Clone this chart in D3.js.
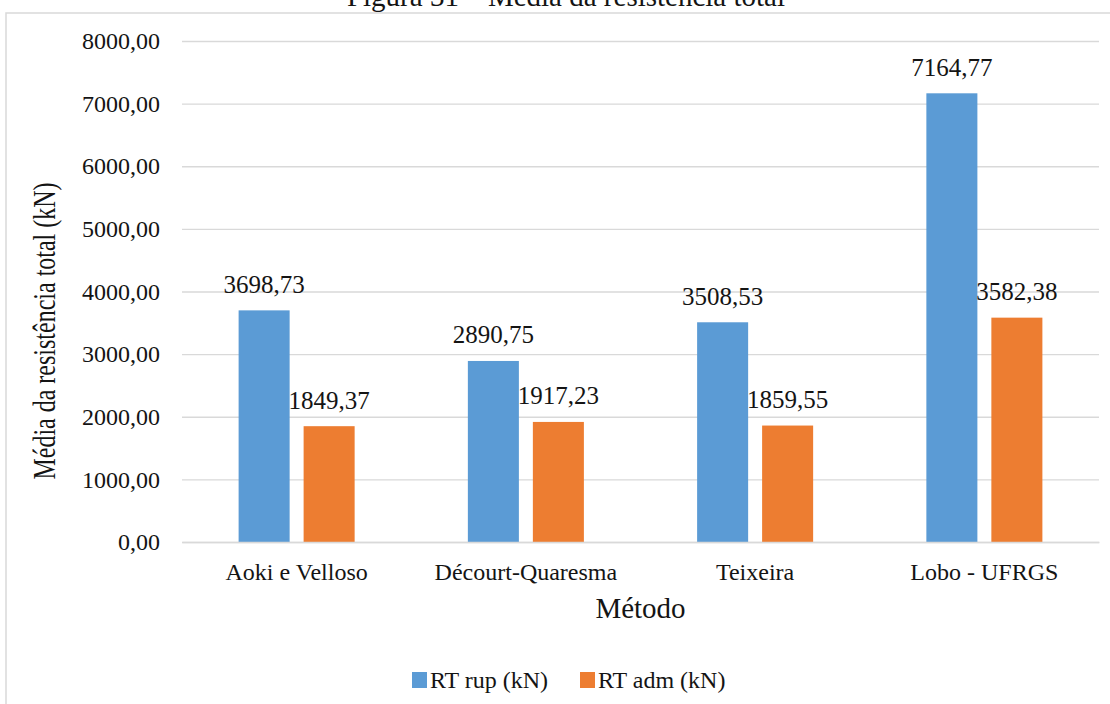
<!DOCTYPE html>
<html>
<head>
<meta charset="utf-8">
<script src="https://cdn.jsdelivr.net/npm/d3@7"></script>
<style>
  html, body { margin: 0; padding: 0; background: #fff; }
  svg { display: block; }
  svg text { font-family: "Liberation Serif", "Times New Roman", serif; }
</style>
</head>
<body>
<svg id="chart" width="1110" height="704"></svg>
<script>
// Mean total resistance per method
const categories = ["Aoki e Velloso", "Décourt-Quaresma", "Teixeira", "Lobo - UFRGS"];
const seriesNames = ["RT rup (kN)", "RT adm (kN)"];
const rtRup = [3698.73, 2890.75, 3508.53, 7164.77];
const rtAdm = [1849.37, 1917.23, 1859.55, 3582.38];
const yTicks = [0, 1000, 2000, 3000, 4000, 5000, 6000, 7000, 8000];
const colors = ["#5B9BD5", "#ED7D31"];

const seriesValues = [rtRup, rtAdm];

const svg = d3.select("#chart");
const textColor = "#141414";
const gridColor = "#d9d9d9";
const serif = '"Liberation Serif", "Times New Roman", serif';

const ptBR = d3.formatLocale({ decimal: ",", thousands: ".", grouping: [3], currency: ["R$", ""] });
const fmt = ptBR.format(".2f");

// Caption above the chart frame
svg.append("text")
  .attr("x", 566).attr("y", 6)
  .attr("text-anchor", "middle")
  .attr("font-size", 29)
  .attr("fill", textColor)
  .text("Figura 31 – Média da resistência total");

// Chart frame
svg.append("rect")
  .attr("x", 6).attr("y", 13)
  .attr("width", 1120).attr("height", 720)
  .attr("fill", "#fff")
  .attr("stroke", gridColor)
  .attr("stroke-width", 1.5);

const plot = { left: 182, right: 1099, top: 41, bottom: 542 };

const y = d3.scaleLinear().domain([0, 8000]).range([plot.bottom, plot.top]);
const x0 = d3.scaleBand().domain(categories).range([plot.left, plot.right]);
const x1 = d3.scaleBand().domain(seriesNames).range([0, x0.bandwidth()])
  .paddingInner(0.215).paddingOuter(0.871);

// Value axis with gridlines
const yAxis = svg.append("g")
  .attr("transform", `translate(${plot.left},0)`)
  .call(d3.axisLeft(y).tickValues(yTicks).tickFormat(fmt)
    .tickSizeInner(-(plot.right - plot.left)).tickSizeOuter(0).tickPadding(22));
yAxis.select(".domain").remove();
yAxis.selectAll(".tick line").attr("stroke", gridColor).attr("stroke-width", 1.4);
yAxis.selectAll(".tick text")
  .attr("font-size", 24).attr("fill", textColor);

// Bars
const groups = svg.append("g").selectAll("g")
  .data(categories)
  .join("g")
  .attr("transform", d => `translate(${x0(d)},0)`);

groups.selectAll("rect")
  .data((c, i) => seriesNames.map((s, k) => ({ s, k, v: seriesValues[k][i] })))
  .join("rect")
  .attr("x", d => x1(d.s))
  .attr("y", d => y(d.v))
  .attr("width", x1.bandwidth())
  .attr("height", d => y(0) - y(d.v))
  .attr("fill", d => colors[d.k]);

// Data labels
groups.selectAll("text.val")
  .data((c, i) => seriesNames.map((s, k) => ({ s, k, v: seriesValues[k][i] })))
  .join("text")
  .attr("class", "val")
  .attr("x", d => x1(d.s) + x1.bandwidth() / 2)
  .attr("y", d => y(d.v) - 17.5)
  .attr("text-anchor", "middle")
  .attr("font-size", 25)
  .attr("fill", textColor)
  .text(d => fmt(d.v));

// Category axis
const xAxis = svg.append("g")
  .attr("transform", `translate(0,${plot.bottom})`)
  .call(d3.axisBottom(x0).tickSize(0));
xAxis.select(".domain").attr("stroke", gridColor).attr("stroke-width", 1.4);
xAxis.selectAll(".tick text")
  .attr("y", 38).attr("dy", 0)
  .attr("font-size", 24).attr("fill", textColor);

// Axis titles
svg.append("text")
  .attr("x", (plot.left + plot.right) / 2).attr("y", 618)
  .attr("text-anchor", "middle")
  .attr("font-size", 29)
  .attr("fill", textColor)
  .text("Método");

svg.append("text")
  .attr("transform", "translate(55,331) scale(1.3,1) rotate(-90)")
  .attr("text-anchor", "middle")
  .attr("font-size", 24)
  .attr("fill", textColor)
  .text("Média da resistência total (kN)");

// Legend
const legend = svg.append("g");
const legendItems = [
  { name: seriesNames[0], color: colors[0], x: 412 },
  { name: seriesNames[1], color: colors[1], x: 580 }
];
legendItems.forEach(it => {
  legend.append("rect")
    .attr("x", it.x).attr("y", 672)
    .attr("width", 15).attr("height", 16)
    .attr("fill", it.color);
  legend.append("text")
    .attr("x", it.x + 18).attr("y", 688)
    .attr("font-size", 24)
    .attr("fill", textColor)
    .text(it.name);
});

// Every label uses the serif face, including those generated by the axes
svg.selectAll("text").style("font-family", serif);
</script>
</body>
</html>
